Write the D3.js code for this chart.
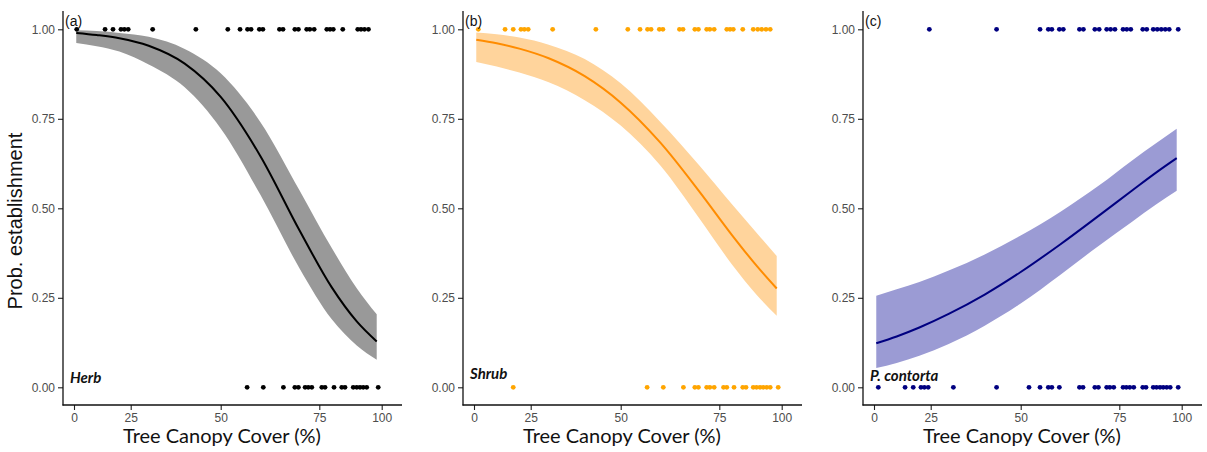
<!DOCTYPE html>
<html><head><meta charset="utf-8">
<script src="https://cdn.jsdelivr.net/npm/d3@7"></script>
<style>body{margin:0;background:#fff}svg{display:block}</style>
</head><body><svg id="c" width="1207" height="452"></svg>
<script>
// ---- data ----
const xTicks = [0, 25, 50, 75, 100];
const xTickLabels = ["0", "25", "50", "75", "100"];
const yTicks = [0, 0.25, 0.5, 0.75, 1];
const yTickLabels = ["0.00", "0.25", "0.50", "0.75", "1.00"];
const panelTags = ["(a)", "(b)", "(c)"];
const groupNames = ["Herb", "Shrub", "P. contorta"];

const curveX = [1, 10, 20, 30, 40, 50, 60, 70, 80, 90, 98];

const herbFit = [0.990, 0.984, 0.975, 0.954, 0.904, 0.811, 0.647, 0.438, 0.279, 0.184, 0.128];
const herbHi  = [0.997, 0.995, 0.990, 0.979, 0.945, 0.877, 0.742, 0.550, 0.389, 0.277, 0.204];
const herbLo  = [0.962, 0.953, 0.938, 0.902, 0.838, 0.723, 0.539, 0.332, 0.190, 0.117, 0.077];

const shrubFit = [0.971, 0.961, 0.946, 0.919, 0.869, 0.795, 0.684, 0.546, 0.426, 0.339, 0.276];
const shrubHi  = [0.991, 0.986, 0.977, 0.957, 0.917, 0.849, 0.742, 0.619, 0.512, 0.431, 0.367];
const shrubLo  = [0.909, 0.896, 0.879, 0.852, 0.802, 0.731, 0.620, 0.471, 0.344, 0.258, 0.200];

const pinusFit = [0.123, 0.142, 0.167, 0.205, 0.259, 0.322, 0.399, 0.481, 0.549, 0.601, 0.640];
const pinusHi  = [0.256, 0.274, 0.294, 0.326, 0.371, 0.424, 0.490, 0.565, 0.633, 0.683, 0.722];
const pinusLo  = [0.054, 0.068, 0.088, 0.121, 0.172, 0.234, 0.314, 0.397, 0.462, 0.512, 0.549];

const herbPresent = [1.2,13.7,17.2,20.7,22.2,23.9,31.1,43.1,51.8,54.9,56.8,57.7,59.8,60.7,64.9,65.8,68.8,69.7,71.8,72.6,73.7,78.0,79.3,80.6,84.4,90.4,91.7,93.1,94.7];
const herbAbsent  = [56.7,60.8,65.9,68.8,69.7,71.4,72.2,73.1,76.0,77.3,80.9,84.0,85.3,88.6,90.0,91.3,92.6,94.0,98.6];

const shrubPresent = [1.9,13.7,17.3,20.7,22.2,23.9,31.1,43.1,51.8,54.9,56.8,57.7,59.8,60.7,64.9,65.8,68.8,69.7,71.8,72.6,73.7,78.0,79.3,80.6,84.4,88.6,90.4,92.0,93.7,95.4];
const shrubAbsent  = [17.3,56.7,60.8,65.9,68.8,69.7,71.8,72.6,73.7,76.7,78.0,80.9,84.4,85.7,88.6,89.9,91.3,92.6,94.0,95.4,98.6];

const pinusPresent = [24.4,43.3,54.9,57.0,57.9,59.8,60.8,64.9,65.9,68.8,69.9,71.8,72.8,73.9,76.5,78.0,79.6,84.4,86.0,88.6,90.2,91.8,93.4,95.0,98.6];
const pinusAbsent  = [1.9,13.7,17.3,20.7,22.2,23.9,31.3,43.3,52.1,54.9,57.0,57.9,59.8,64.9,65.8,68.8,69.7,71.8,72.6,73.6,76.5,77.8,79.2,80.8,84.4,85.7,88.6,89.9,91.3,92.6,94.0,95.4,98.6];

// ---- layout / style ----
const panels = [
  {fit: herbFit, lo: herbLo, hi: herbHi, pres: herbPresent, abs: herbAbsent,
   band: "#999999", line: "#000000", dot: "#000000", nameY: 383},
  {fit: shrubFit, lo: shrubLo, hi: shrubHi, pres: shrubPresent, abs: shrubAbsent,
   band: "#FFD49C", line: "#FF8C00", dot: "#FFA500", nameY: 379},
  {fit: pinusFit, lo: pinusLo, hi: pinusHi, pres: pinusPresent, abs: pinusAbsent,
   band: "#9B9BD4", line: "#000080", dot: "#000080", nameY: 381}
];

const svg = d3.select("#c");
const axisLeftX = 63, axisRightX = 402, axisTopY = 11, axisBottomY = 405;

const x = d3.scaleLinear().domain(xTicks).range([74, 130.7, 220.7, 319.3, 381.7]);
const y = d3.scaleLinear().domain([0, 1]).range([387.3, 29.3]);

panels.forEach((p, i) => {
  const g = svg.append("g").attr("transform", `translate(${400 * i},0)`);

  const pts = curveX.map((cx, j) => ({x: cx, f: p.fit[j], lo: p.lo[j], hi: p.hi[j]}));
  g.append("path").datum(pts)
    .attr("fill", p.band)
    .attr("d", d3.area().curve(d3.curveMonotoneX)
      .x(d => x(d.x)).y0(d => y(d.lo)).y1(d => y(d.hi)));
  g.append("path").datum(pts)
    .attr("fill", "none").attr("stroke", p.line).attr("stroke-width", 2)
    .attr("d", d3.line().curve(d3.curveMonotoneX).x(d => x(d.x)).y(d => y(d.f)));

  const dots = p.pres.map(v => ({x: v, y: 1})).concat(p.abs.map(v => ({x: v, y: 0})));
  g.selectAll("circle.pt").data(dots).enter().append("circle")
    .attr("cx", d => x(d.x)).attr("cy", d => y(d.y)).attr("r", 2.4)
    .attr("fill", p.dot);

  // axes
  const xa = g.append("g").attr("transform", `translate(0,${axisBottomY})`)
    .call(d3.axisBottom(x).tickValues(xTicks).tickFormat((d, k) => xTickLabels[k])
      .tickSize(5).tickSizeOuter(0).tickPadding(3));
  xa.select(".domain").remove();
  xa.selectAll("line").attr("stroke", "#222").attr("stroke-width", 1.1);
  xa.selectAll("text").attr("fill", "#4d4d4d").attr("font-size", 12)
    .attr("font-family", "Liberation Sans, Arial, sans-serif");

  const ya = g.append("g").attr("transform", `translate(${axisLeftX},0)`)
    .call(d3.axisLeft(y).tickValues(yTicks).tickFormat((d, k) => yTickLabels[k])
      .tickSize(5).tickSizeOuter(0).tickPadding(3));
  ya.select(".domain").remove();
  ya.selectAll("line").attr("stroke", "#222").attr("stroke-width", 1.1);
  ya.selectAll("text").attr("fill", "#4d4d4d").attr("font-size", 12)
    .attr("font-family", "Liberation Sans, Arial, sans-serif");

  g.append("line").attr("x1", axisLeftX).attr("x2", axisLeftX)
    .attr("y1", axisTopY).attr("y2", axisBottomY + 0.5)
    .attr("stroke", "#111").attr("stroke-width", 1.3);
  g.append("line").attr("x1", axisLeftX - 0.5).attr("x2", axisRightX)
    .attr("y1", axisBottomY).attr("y2", axisBottomY)
    .attr("stroke", "#111").attr("stroke-width", 1.3);

  g.append("text").attr("x", 222).attr("y", 443).attr("text-anchor", "middle")
    .attr("font-family", "Lato, Open Sans, sans-serif").attr("font-size", 20)
    .attr("fill", "#111").text("Tree Canopy Cover (%)");

  g.append("text").attr("x", 65).attr("y", 26)
    .attr("font-family", "Liberation Sans, Arial, sans-serif").attr("font-size", 14)
    .attr("fill", "#111").text(panelTags[i]);

  g.append("text").attr("x", 70).attr("y", p.nameY)
    .attr("font-family", "Lato, Open Sans, sans-serif").attr("font-size", 15)
    .attr("font-weight", "bold").attr("font-style", "italic")
    .attr("fill", "#111").text(groupNames[i]);
});

svg.append("text").attr("transform", "translate(22,221) rotate(-90)")
  .attr("text-anchor", "middle")
  .attr("font-family", "Liberation Sans, Arial, sans-serif").attr("font-size", 20)
  .attr("fill", "#111").text("Prob. establishment");
</script>
</body></html>
